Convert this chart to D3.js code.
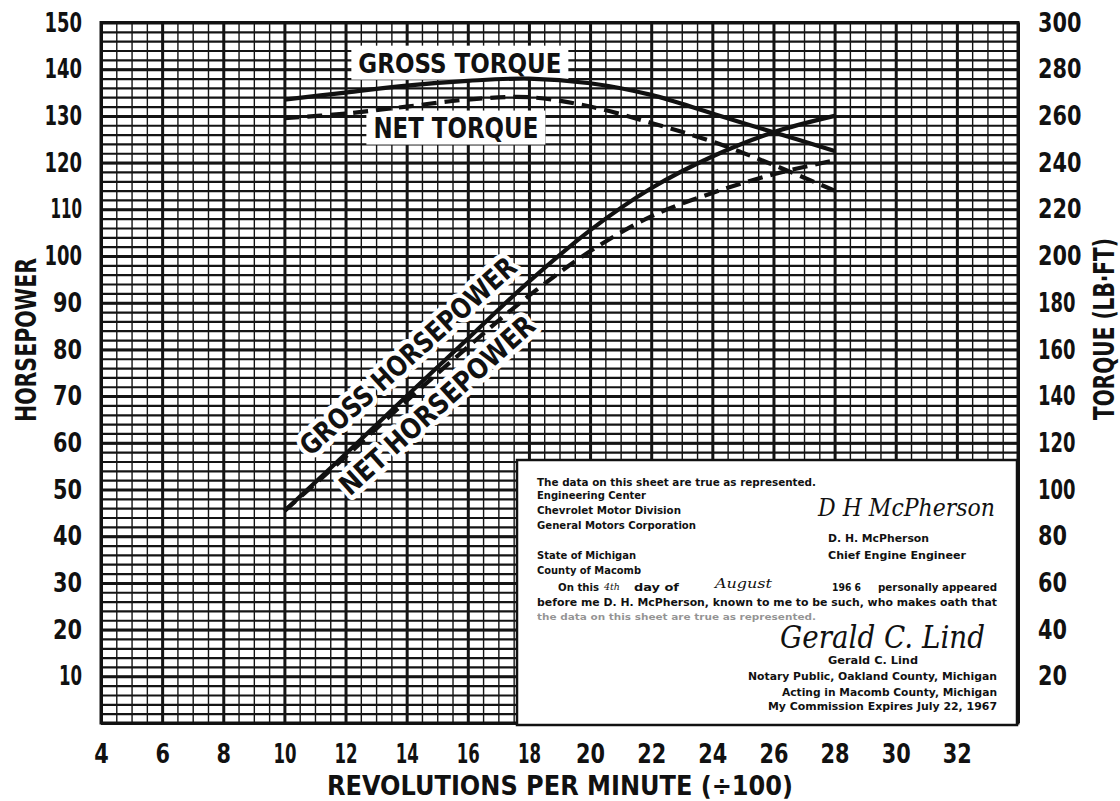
<!DOCTYPE html>
<html>
<head>
<meta charset="utf-8">
<script src="https://cdn.jsdelivr.net/npm/d3@7/dist/d3.min.js"></script>
<style>
	body { margin: 0; background: #fff; }
	svg { display: block; }
	text { font-family: "DejaVu Sans", sans-serif; font-weight: bold; fill: #111; }
	.grid line { stroke: #141414; }
	.grid path { display: none; }
</style>
</head>
<body>
<div id="svg-container"></div>
<script>

// DATA (hp on left scale, torque lb-ft on right scale)
const rpm = [10, 12, 14, 16, 18, 20, 22, 24, 26, 28];
const grossHp = [45.4, 57.6, 70, 82.3, 94.5, 105.5, 114.5, 121.3, 126.5, 130];
const netHp = [45.4, 57, 69, 80.5, 91.5, 101, 108.5, 113.5, 117.5, 120.5];
const grossTorque = [267, 270, 273, 275, 276, 274, 269, 261, 253, 245];
const netTorque = [259, 261, 264, 267, 268, 264, 257, 249, 239, 228];

// tick labels
const rpmTicks = [4, 6, 8, 10, 12, 14, 16, 18, 20, 22, 24, 26, 28, 30, 32];
const hpTicks = [10, 20, 30, 40, 50, 60, 70, 80, 90, 100, 110, 120, 130, 140, 150];
const torqueTicks = [20, 40, 60, 80, 100, 120, 140, 160, 180, 200, 220, 240, 260, 280, 300];

// curve labels
const curveLabels = ["GROSS TORQUE", "NET TORQUE", "GROSS HORSEPOWER", "NET HORSEPOWER"];




// width of a condensed number label
const numWidth = (d) => String(d).split('').reduce((s, c) => s + (c == '1' ? 8.5 : 14.5), 0);


function drawChart(w = 1120, h = 801) {
	const left = 101, right = 1018, top = 22.5, bottom = 723;

	const svg = d3.select('#svg-container').append('svg')
		.attr("width", w)
		.attr("height", h);

	// scales
	const x = d3.scaleLinear().domain([4, 34]).range([left, right]);
	const y = d3.scaleLinear().domain([0, 150]).range([bottom, top]);
	const yT = d3.scaleLinear().domain([0, 300]).range([bottom, top]);

	// graph paper grid
	const grid = svg.append("g").attr("class", "grid");
	grid.append("g")
		.attr("transform", `translate(0, ${bottom})`)
		.call(d3.axisBottom(x).tickValues(d3.range(4, 34.01, 0.5)).tickSize(-(bottom - top)).tickFormat(""))
		.selectAll("line").attr("stroke-width", 1.4);
	grid.append("g")
		.attr("transform", `translate(${left}, 0)`)
		.call(d3.axisLeft(y).tickValues(d3.range(0, 150.01, 2)).tickSize(-(right - left)).tickFormat(""))
		.selectAll("line").attr("stroke-width", 2.2);
	grid.append("g")
		.attr("transform", `translate(0, ${bottom})`)
		.call(d3.axisBottom(x).tickValues(d3.range(4, 34.01, 2)).tickSize(-(bottom - top)).tickFormat(""))
		.selectAll("line").attr("stroke-width", 3);
	grid.append("g")
		.attr("transform", `translate(${left}, 0)`)
		.call(d3.axisLeft(y).tickValues(d3.range(0, 150.01, 10)).tickSize(-(right - left)).tickFormat(""))
		.selectAll("line").attr("stroke-width", 3);
	svg.append("rect")
		.attr("x", left).attr("y", top)
		.attr("width", right - left).attr("height", bottom - top)
		.attr("fill", "none").attr("stroke", "#111").attr("stroke-width", 3);

	// axes labels
	const fontSize = 27;
	const styleTicks = (g) => {
		g.select(".domain").remove();
		g.selectAll("text")
			.attr("font-size", fontSize)
			.attr("textLength", d => numWidth(d))
			.attr("lengthAdjust", "spacingAndGlyphs");
	};
	svg.append("g")
		.attr("transform", `translate(0, ${bottom})`)
		.call(d3.axisBottom(x).tickValues(rpmTicks).tickSize(0).tickPadding(21))
		.call(styleTicks);
	svg.append("g")
		.attr("transform", `translate(${left}, 0)`)
		.call(d3.axisLeft(y).tickValues(hpTicks).tickSize(0).tickPadding(19))
		.call(styleTicks);
	svg.append("g")
		.attr("transform", `translate(${right}, 0)`)
		.call(d3.axisRight(yT).tickValues(torqueTicks).tickSize(0).tickPadding(20))
		.call(styleTicks);

	// axis titles
	svg.append("text")
		.attr("x", 560).attr("y", 795)
		.attr("text-anchor", "middle")
		.attr("font-size", 27)
		.attr("textLength", 466).attr("lengthAdjust", "spacingAndGlyphs")
		.text("REVOLUTIONS PER MINUTE (\u00f7100)");
	svg.append("text")
		.attr("transform", "translate(36, 340) rotate(-90)")
		.attr("text-anchor", "middle")
		.attr("font-size", 29)
		.attr("textLength", 164).attr("lengthAdjust", "spacingAndGlyphs")
		.text("HORSEPOWER");
	svg.append("text")
		.attr("transform", "translate(1114, 329) rotate(-90)")
		.attr("text-anchor", "middle")
		.attr("font-size", 29)
		.attr("textLength", 182).attr("lengthAdjust", "spacingAndGlyphs")
		.text("TORQUE (LB\u00b7FT)");

	// torque labels sit on white patches
	const torqueLbl = [
		{ t: curveLabels[0], v: 15.74, hp: 141.4, w: 203, fs: 27 },
		{ t: curveLabels[1], v: 15.61, hp: 127.5, w: 165, fs: 29 }
	];
	torqueLbl.forEach(l => {
		svg.append("rect")
			.attr("x", x(l.v) - l.w / 2 - 7).attr("y", y(l.hp) - 17)
			.attr("width", l.w + 14).attr("height", 34)
			.attr("fill", "#fff");
		svg.append("text")
			.attr("x", x(l.v)).attr("y", y(l.hp) + 10)
			.attr("text-anchor", "middle")
			.attr("font-size", l.fs)
			.attr("textLength", l.w).attr("lengthAdjust", "spacingAndGlyphs")
			.text(l.t);
	});

	// horsepower labels, rotated, with white halo
	const hpLbl = [
		{ t: curveLabels[2], v: 14.04, hp: 78.6, w: 280 },
		{ t: curveLabels[3], v: 14.99, hp: 68.1, w: 252 }
	];
	hpLbl.forEach(l => {
		svg.append("text")
			.attr("transform", `translate(${x(l.v)}, ${y(l.hp)}) rotate(-42)`)
			.attr("y", 10)
			.attr("text-anchor", "middle")
			.attr("font-size", 28)
			.attr("textLength", l.w).attr("lengthAdjust", "spacingAndGlyphs")
			.attr("stroke", "#fff").attr("stroke-width", 10)
			.attr("stroke-linejoin", "round")
			.attr("paint-order", "stroke")
			.text(l.t);
	});

	// curves
	const line = (ys, sc) => d3.line()
		.x((d, i) => x(rpm[i]))
		.y(d => sc(d))
		.curve(d3.curveCatmullRom.alpha(0.5))(ys);
	const curves = [
		{ ys: grossTorque, sc: yT, dash: null },
		{ ys: netTorque, sc: yT, dash: "15 8" },
		{ ys: grossHp, sc: y, dash: null },
		{ ys: netHp, sc: y, dash: "15 8" }
	];
	svg.selectAll("path.curve")
		.data(curves)
		.enter()
		.append("path")
		.attr("class", "curve")
		.attr("d", c => line(c.ys, c.sc))
		.attr("fill", "none")
		.attr("stroke", "#111")
		.attr("stroke-width", 4.2)
		.attr("stroke-dasharray", c => c.dash);

	// certification box
	svg.append("rect")
		.attr("x", 517).attr("y", 460)
		.attr("width", 500).attr("height", 265)
		.attr("fill", "#fff").attr("stroke", "#111").attr("stroke-width", 2.5);

	const notes = [
		["The data on this sheet are true as represented.", 537, 486, 279, "start"],
		["Engineering Center", 537, 498.5, 109, "start"],
		["Chevrolet Motor Division", 537, 513.5, 144, "start"],
		["General Motors Corporation", 537, 528.5, 159, "start"],
		["D. H. McPherson", 828, 541.5, 101, "start"],
		["Chief Engine Engineer", 828, 559, 138, "start"],
		["State of Michigan", 537, 559, 99, "start"],
		["County of Macomb", 537, 574, 104, "start"],
		["On this", 558, 591, 41, "start"],
		["day of", 634, 591, 45, "start"],
		["196 6", 832, 591, 29, "start"],
		["personally appeared", 878, 591, 119, "start"],
		["before me  D. H. McPherson,  known to me to be such,  who makes oath that", 537, 606, 460, "start"],
		["Gerald C. Lind", 828, 664, 90, "start"],
		["Notary Public, Oakland County, Michigan", 997, 679.5, 249, "end"],
		["Acting in Macomb County, Michigan", 997, 695.5, 215, "end"],
		["My Commission Expires July 22, 1967", 997, 710, 229, "end"]
	];
	svg.selectAll("text.note")
		.data(notes)
		.enter()
		.append("text")
		.attr("class", "note")
		.attr("x", d => d[1]).attr("y", d => d[2])
		.attr("text-anchor", d => d[4])
		.attr("font-size", 10)
		.attr("textLength", d => d[3]).attr("lengthAdjust", "spacingAndGlyphs")
		.text(d => d[0]);
	// faint reprinted line
	svg.append("text")
		.attr("x", 537).attr("y", 619.5)
		.attr("font-size", 9)
		.attr("opacity", 0.45)
		.attr("textLength", 279).attr("lengthAdjust", "spacingAndGlyphs")
		.text("the data on this sheet are true as represented.");

	// handwriting
	const hand = [
		["D H McPherson", 818, 516, 177, 24],
		["Gerald C. Lind", 780, 648, 205, 32],
		["August", 715, 588, 57, 13],
		["4th", 604, 590, 16, 10]
	];
	svg.selectAll("text.hand")
		.data(hand)
		.enter()
		.append("text")
		.attr("class", "hand")
		.attr("x", d => d[1]).attr("y", d => d[2])
		.style("font-family", "'DejaVu Serif', serif")
		.style("font-style", "italic")
		.style("font-weight", "normal")
		.attr("font-size", d => d[4])
		.attr("textLength", d => d[3]).attr("lengthAdjust", "spacingAndGlyphs")
		.text(d => d[0]);
}


document.addEventListener('DOMContentLoaded', () => {
	drawChart();
});
</script>
</body>
</html>
